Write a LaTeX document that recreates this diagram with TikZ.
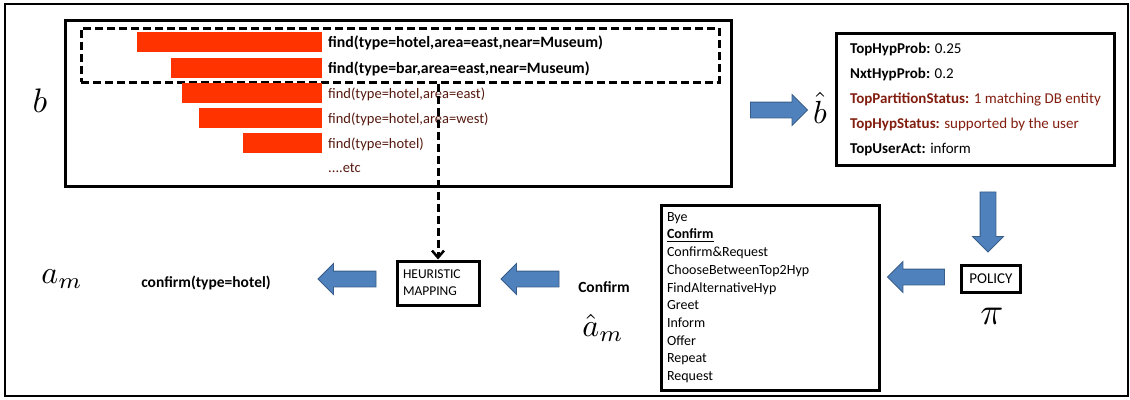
\documentclass[tikz,border=0pt]{standalone}
\usepackage{fontspec}
\setmainfont{Carlito}
\usepackage{amssymb}
\usepackage{graphicx}
\usepackage{tikz}
\usetikzlibrary{shapes.arrows,arrows.meta}
\definecolor{barred}{RGB}{255,51,0}
\definecolor{arrowblue}{RGB}{79,129,189}
\definecolor{arrowedge}{RGB}{56,93,138}
\definecolor{hyptext}{RGB}{85,25,15}
\definecolor{statusred}{RGB}{130,30,15}
\newcommand{\bigsym}[2][3.4]{\scalebox{#1}{$#2$}}

\begin{document}
\begin{tikzpicture}[x=1pt,y=-1pt,
  box/.style={draw,line width=3pt,inner sep=0pt},
  bar/.style={fill=barred,inner sep=0pt,minimum height=20pt,anchor=east},
  hyp/.style={anchor=west,inner sep=0pt,font=\fontsize{14.5}{14.5}\selectfont,text=hyptext},
  tophyp/.style={anchor=west,inner sep=0pt,font=\fontsize{15.8}{15.8}\selectfont\bfseries},
  bigmath/.style={inner sep=0pt},
  blockarrow/.style={single arrow,draw=arrowedge,fill=arrowblue,line width=0.8pt,
    inner xsep=0pt,inner ysep=7.5pt,single arrow head extend=7.5pt},
  dasharrow/.style={draw,line width=3pt,dash pattern=on 8pt off 4pt,
    -{Straight Barb[length=7pt,width=12pt,line width=2.5pt]}}]
  \useasboundingbox (0,0) rectangle (1130,399);
  \draw [line width=2pt] (5,4) rectangle (1128,396);

  \node [box,minimum width=666,minimum height=166] (belief) at (398,103) {};
  \node [draw,line width=3pt,dash pattern=on 8pt off 4pt,inner sep=0pt,
         minimum width=638,minimum height=54] (top2) at (400,55) {};
  \node [bar,minimum width=185] (bar1) at (322,42) {};
  \node [bar,minimum width=151] (bar2) at (322,68) {};
  \node [bar,minimum width=140] (bar3) at (322,93) {};
  \node [bar,minimum width=123] (bar4) at (322,118) {};
  \node [bar,minimum width=79]  (bar5) at (322,143) {};
  \node [tophyp] (h1) at (328,43) {find(type=hotel,area=east,near=Museum)};
  \node [tophyp] (h2) at (328,69) {find(type=bar,area=east,near=Museum)};
  \node [hyp] (h3) at (328,94) {find(type=hotel,area=east)};
  \node [hyp] (h4) at (328,119) {find(type=hotel,area=west)};
  \node [hyp] (h5) at (328,144) {find(type=hotel)};
  \node [hyp] (etc) at (328,168) {....etc};
  \node [bigmath] (b) at (40,101) {\bigsym{b}};

  \node [blockarrow,minimum height=57] (tobhat) at (775,110) {};
  \node [bigmath] (bhat) at (820,108) {\bigsym[3.2]{\hat{b}}};
  \node [box,minimum width=278,minimum height=132,align=left,anchor=north west,
         font=\fontsize{15}{25}\selectfont] (summary) at (835,32)
    {\textbf{TopHypProb:} 0.25\\
     \textbf{NxtHypProb:} 0.2\\
     \textcolor{statusred}{\textbf{TopPartitionStatus:} 1 matching DB entity}\\
     \textcolor{statusred}{\textbf{TopHypStatus:} supported by the user}\\
     \textbf{TopUserAct:} inform};

  \node [blockarrow,minimum height=60,rotate=-90] (topolicy) at (988,218) {};
  \node [box,minimum width=59,minimum height=27,font=\fontsize{15}{15}\selectfont] (policy) at (991,279) {POLICY};
  \node [bigmath] (pi) at (992,316) {\bigsym[3.8]{\pi}};

  \node [blockarrow,minimum height=57,shape border rotate=180] (tolist) at (920,277) {};
  \node [box,text width=206,inner xsep=6,minimum height=185,align=left,
         font=\fontsize{14}{17.7}\selectfont] (actions) at (770,297.5)
    {Bye\\ \underline{\textbf{Confirm}}\\ Confirm\&Request\\ ChooseBetweenTop2Hyp\\
     FindAlternativeHyp\\ Greet\\ Inform\\ Offer\\ Repeat\\ Request};

  \node [font=\fontsize{15.5}{15.5}\selectfont\bfseries] (confirm) at (604,287) {Confirm};
  \node [bigmath] (ahat) at (603,328) {\bigsym[3.2]{\hat{a}_{m}}};
  \node [blockarrow,minimum height=58,shape border rotate=180] (tomapping) at (534,279) {};
  \node [box,text width=70,inner xsep=6,minimum height=44,align=left,
         font=\fontsize{13.5}{17}\selectfont] (mapping) at (438,283) {HEURISTIC\\MAPPING};
  \node [blockarrow,minimum height=58,shape border rotate=180] (tomove) at (351,279) {};
  \node [font=\fontsize{15.5}{15.5}\selectfont\bfseries] (move) at (206,283) {confirm(type=hotel)};
  \node [bigmath] (am) at (62,279) {\bigsym[3.2]{a_{m}}};

  \draw [dasharrow] (top2.south -| mapping.north) -- (mapping.north);
\end{tikzpicture}
\end{document}
